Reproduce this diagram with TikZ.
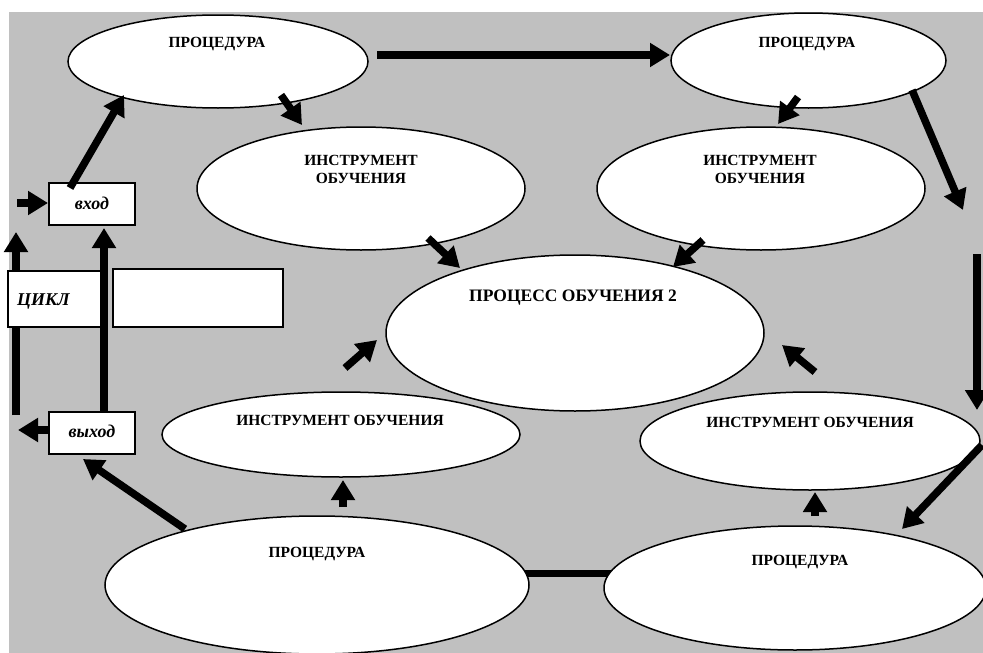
\documentclass[tikz,border=0pt]{standalone}
\usepackage{fontspec}
\setmainfont{Liberation Serif}
\usetikzlibrary{arrows.meta,shapes.geometric}
\definecolor{panel}{RGB}{192,192,192}
\pgfdeclarelayer{back}
\pgfsetlayers{back,main}

\begin{document}
\begin{tikzpicture}[x=1pt,y=-1pt,
  oval/.style={ellipse, draw=black, line width=1.5pt, fill=white, inner sep=0pt},
  box/.style={rectangle, draw=black, line width=1.5pt, fill=white, inner sep=0pt},
  lbl/.style={font=\bfseries\fontsize{15.5}{18}\selectfont, anchor=base, inner sep=0pt},
  biglbl/.style={font=\bfseries\fontsize{17.5}{21}\selectfont, anchor=base, inner sep=0pt},
  itl/.style={font=\bfseries\itshape\fontsize{18}{21}\selectfont, anchor=base, inner sep=0pt},
  arr/.style={line width=7.5pt, -{Triangle[length=20pt,width=23pt]}},
  bar/.style={line width=7pt}]

\useasboundingbox (0,0) rectangle (983,653);
\begin{pgfonlayer}{back}
  \fill[panel] (9,12) rectangle (983,653);
\end{pgfonlayer}

% ellipses
\node[oval, minimum width=300pt, minimum height=93pt]  (procA) at (218,61.5) {};
\node[oval, minimum width=275pt, minimum height=95pt]  (procB) at (808.5,60.5) {};
\node[oval, minimum width=328pt, minimum height=123pt] (toolC) at (361,188.5) {};
\node[oval, minimum width=328pt, minimum height=123pt] (toolD) at (761,188.5) {};
\node[oval, minimum width=378pt, minimum height=156pt] (proc2) at (575,333) {};
\node[oval, minimum width=358pt, minimum height=85pt]  (toolF) at (341,434.5) {};
\node[oval, minimum width=340pt, minimum height=98pt]  (toolG) at (810,441) {};
\node[oval, minimum width=424pt, minimum height=138pt] (procH) at (317,585) {};
\node[oval, minimum width=382pt, minimum height=124pt] (procI) at (795,588) {};

% link between the two lower procedures
\begin{pgfonlayer}{back}
  \draw[bar] ([yshift=12pt]procH.center) -- ([yshift=15pt]procI.center);
\end{pgfonlayer}

% left loop arrow runs behind the cycle box
\coordinate (lupS) at (16,415);
\coordinate (lupE) at (16,232);
\draw[arr] (lupS) -- (lupE);

% boxes
\node[box, minimum width=86pt, minimum height=42pt] (vhod)  at (92,204) {};
\node[box, minimum width=95pt, minimum height=56pt] (cikl)  at (55.5,299) {};
\node[box, minimum width=170pt, minimum height=58pt] (blank) at (198,298) {};
\node[box, minimum width=86pt, minimum height=42pt] (vyhod) at (92,433) {};

% arrow end points
\coordinate (rupS) at (104,412);   \coordinate (rupE) at (104,228);
\coordinate (inS)  at (17,203);    \coordinate (inE)  at (48,203);
\coordinate (outS) at (49,430);    \coordinate (outE) at (18,430);
\coordinate (vaS)  at (70,188);    \coordinate (vaE)  at (124,95);
\coordinate (acS)  at (281,95);    \coordinate (acE)  at (302,125);
\coordinate (abS)  at (377,55);    \coordinate (abE)  at (670,55);
\coordinate (bdS)  at (798,97);    \coordinate (bdE)  at (778,124);
\coordinate (brS)  at (912,90);    \coordinate (brE)  at (963,210);
\coordinate (rdS)  at (977,254);   \coordinate (rdE)  at (977,410);
\coordinate (giS)  at (982,445);   \coordinate (giE)  at (902,529);
\coordinate (igS)  at (815,516);   \coordinate (igE)  at (815,492);
\coordinate (hfS)  at (343,507);   \coordinate (hfE)  at (343,480);
\coordinate (hvS)  at (185,529);   \coordinate (hvE)  at (83,459);
\coordinate (feS)  at (345,368);   \coordinate (feE)  at (377,340);
\coordinate (ceS)  at (428,238);   \coordinate (ceE)  at (460,268);
\coordinate (deS)  at (703,240);   \coordinate (deE)  at (673,267);
\coordinate (geS)  at (815,372);   \coordinate (geE)  at (782,345);

\draw[arr] (rupS) -- (rupE);
\draw[arr] (inS) -- (inE);
\draw[arr] (outS) -- (outE);
\draw[arr] (vaS) -- (vaE);
\draw[arr] (acS) -- (acE);
\draw[arr, line width=8pt] (abS) -- (abE);
\draw[arr] (bdS) -- (bdE);
\draw[arr] (brS) -- (brE);
\draw[arr] (rdS) -- (rdE);
\draw[arr] (giS) -- (giE);
\draw[arr] (igS) -- (igE);
\draw[arr] (hfS) -- (hfE);
\draw[arr] (hvS) -- (hvE);
\draw[arr] (feS) -- (feE);
\draw[arr] (ceS) -- (ceE);
\draw[arr] (deS) -- (deE);
\draw[arr] (geS) -- (geE);

% labels
\node[lbl] (tA)  at (217,47)  {ПРОЦЕДУРА};
\node[lbl] (tB)  at (807,47)  {ПРОЦЕДУРА};
\node[lbl] (tC1) at (361,165) {ИНСТРУМЕНТ};
\node[lbl] (tC2) at (361,183) {ОБУЧЕНИЯ};
\node[lbl] (tD1) at (760,165) {ИНСТРУМЕНТ};
\node[lbl] (tD2) at (760,183) {ОБУЧЕНИЯ};
\node[biglbl] (tE) at (573,301.5) {ПРОЦЕСС ОБУЧЕНИЯ 2};
\node[lbl] (tF)  at (340,425) {ИНСТРУМЕНТ ОБУЧЕНИЯ};
\node[lbl] (tG)  at (810,427) {ИНСТРУМЕНТ ОБУЧЕНИЯ};
\node[lbl] (tH)  at (317,557) {ПРОЦЕДУРА};
\node[lbl] (tI)  at (800,565) {ПРОЦЕДУРА};
\node[itl] (tvh) at (92,209)  {вход};
\node[itl] (tvy) at (92,437)  {выход};
\node[itl, anchor=base west] (tcy) at (17,305) {ЦИКЛ};
\end{tikzpicture}
\end{document}
